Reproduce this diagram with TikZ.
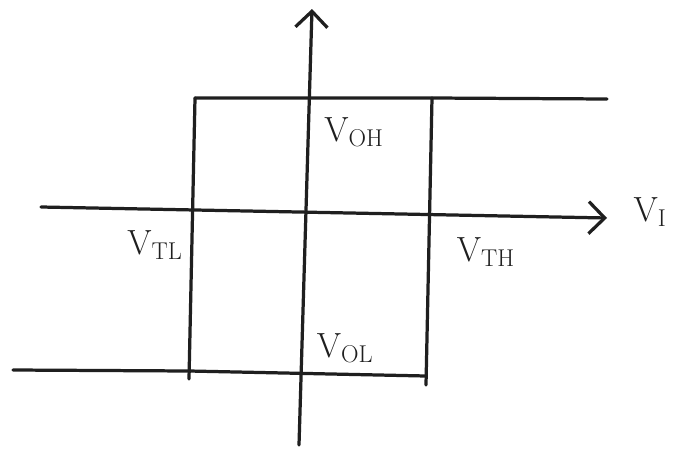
\documentclass[tikz,border=0pt]{standalone}
\usetikzlibrary{arrows.meta}
\begin{document}
\begin{tikzpicture}[
  x=0.025cm, y=-0.025cm,
  pen/.style={line width=2.3pt, draw=black!88, line cap=round},
  axis/.style={pen, -{Straight Barb[length=4mm, width=8mm, line width=2.3pt]}},
  vlabel/.style={font=\fontsize{24}{26}\selectfont, text=black!88, inner sep=0pt},
]
\useasboundingbox[fill=white] (0,0) rectangle (678,448);

% ── Axes ──────────────────────────────────────────────────────────────────────
\coordinate (ybot) at (299,445);
\coordinate (ytop) at (312,9);
\coordinate (xlft) at (41,207);
\coordinate (xrgt) at (607,218);

% ── Loop corners ──────────────────────────────────────────────────────────────
\coordinate (tl)   at (195,98);
\coordinate (tr)   at (432,98);
\coordinate (tend) at (607,99);
\coordinate (bl)   at (189,379);
\coordinate (br)   at (426,385);
\coordinate (bbeg) at (13,370);
\coordinate (bmid) at (189,371);
\coordinate (bcr)  at (426,376);

% upper and lower output levels
\draw[pen] (tl) -- (tr) -- (tend);
\draw[pen] (bbeg) -- (bmid) -- (bcr);
% switching edges
\draw[pen] (tl) -- (bl);
\draw[pen] (tr) -- (br);

\draw[axis] (ybot) -- (ytop);
\draw[axis] (xlft) -- (xrgt);

% ── Labels ────────────────────────────────────────────────────────────────────
\node[vlabel] (voh) at (354,132) {$\mathrm{V}_{\mathrm{OH}}$};
\node[vlabel] (vtl) at (155,245) {$\mathrm{V}_{\mathrm{TL}}$};
\node[vlabel] (vth) at (486,252) {$\mathrm{V}_{\mathrm{TH}}$};
\node[vlabel] (vol) at (345,348) {$\mathrm{V}_{\mathrm{OL}}$};
\node[vlabel] (vi)  at (650,212) {$\mathrm{V}_{\mathrm{I}}$};

\end{tikzpicture}
\end{document}
